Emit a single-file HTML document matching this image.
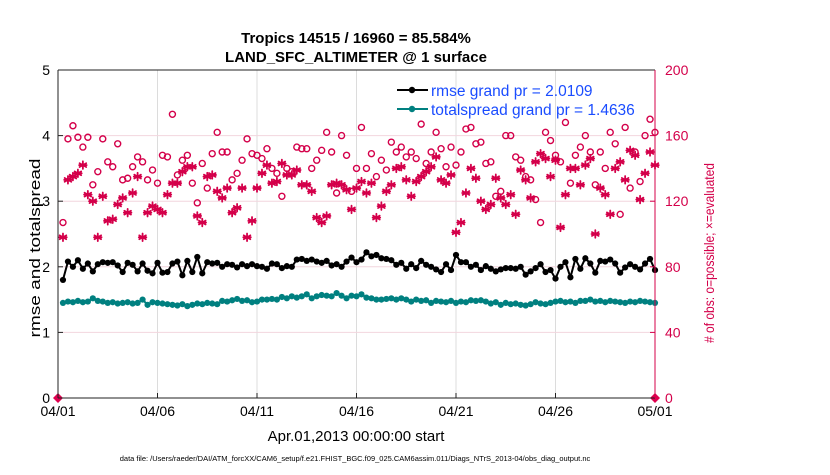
<!DOCTYPE html>
<html><head><meta charset="utf-8"><style>
body{margin:0;background:#fff;}
svg text{font-family:"Liberation Sans",sans-serif;}
</style></head><body>
<svg id="chart" width="830" height="470" xmlns="http://www.w3.org/2000/svg">
<rect width="830" height="470" fill="#fff"/>
<g id="grid"></g>
<g id="legend">
 <line x1="397" y1="90" x2="428" y2="90" stroke="#000" stroke-width="2"/>
 <circle cx="412" cy="90" r="3.2" fill="#000"/>
 <text x="431" y="96" font-size="15.5" fill="#1a4cff">rmse grand pr = 2.0109</text>
 <line x1="397" y1="109" x2="428" y2="109" stroke="#008080" stroke-width="2"/>
 <circle cx="412" cy="109" r="3.2" fill="#008080"/>
 <text x="431" y="115" font-size="15.5" fill="#1a4cff">totalspread grand pr = 1.4636</text>
</g>
<g id="marks"></g>
<g id="axes"></g>
<text x="356" y="43" font-size="15" font-weight="bold" text-anchor="middle">Tropics 14515 / 16960 = 85.584%</text>
<text x="356" y="62" font-size="15" font-weight="bold" text-anchor="middle">LAND_SFC_ALTIMETER @ 1 surface</text>
<text x="356" y="441" font-size="15" text-anchor="middle">Apr.01,2013 00:00:00 start</text>
<text transform="translate(40,248) rotate(-90)" font-size="15" text-anchor="middle" textLength="179" lengthAdjust="spacingAndGlyphs">rmse and totalspread</text>
<text transform="translate(714,253) rotate(-90)" font-size="14" fill="#d4004a" text-anchor="middle" textLength="180" lengthAdjust="spacingAndGlyphs"># of obs: o=possible; ×=evaluated</text>
<text x="355" y="461" font-size="7.5" text-anchor="middle">data file: /Users/raeder/DAI/ATM_forcXX/CAM6_setup/f.e21.FHIST_BGC.f09_025.CAM6assim.011/Diags_NTrS_2013-04/obs_diag_output.nc</text>
</svg>
<script>
const xTickLabels=["04/01","04/06","04/11","04/16","04/21","04/26","05/01"];
const xTickDays=[0,5,10,15,20,25,30];
const leftTicks=[0,1,2,3,4,5];
const rightTicks=[0,40,80,120,160,200];
const rmse=[1.80,2.08,2.00,2.10,1.97,2.05,1.93,2.04,2.07,2.06,2.07,2.02,1.92,2.06,2.03,1.93,2.05,1.94,1.90,2.06,1.91,1.92,2.05,2.08,1.87,2.09,1.92,2.15,1.90,2.07,2.05,2.06,2.00,2.04,2.03,1.99,2.04,2.01,2.04,2.01,2.00,1.97,2.05,2.04,1.98,2.01,2.00,2.11,2.12,2.09,2.11,2.08,2.06,2.09,2.02,2.04,2.00,2.08,2.14,2.07,2.11,2.22,2.16,2.18,2.13,2.12,2.10,2.03,2.06,1.97,2.04,1.98,2.09,2.03,2.00,1.96,1.92,2.04,1.95,2.18,2.07,2.07,2.00,2.03,1.95,2.01,1.97,1.93,1.96,1.98,1.98,1.97,2.00,1.88,1.93,1.98,2.04,1.92,1.95,1.82,2.00,2.07,1.84,2.12,1.97,2.13,2.05,1.91,2.09,2.08,2.11,2.05,1.91,1.99,2.04,2.00,1.96,2.05,2.12,1.95];
const spread=[1.45,1.47,1.46,1.48,1.46,1.47,1.52,1.48,1.47,1.45,1.46,1.44,1.45,1.46,1.44,1.45,1.50,1.42,1.46,1.45,1.44,1.43,1.42,1.41,1.43,1.40,1.42,1.44,1.43,1.45,1.44,1.43,1.48,1.47,1.49,1.51,1.48,1.49,1.46,1.47,1.50,1.50,1.51,1.50,1.54,1.52,1.55,1.53,1.55,1.58,1.52,1.55,1.57,1.56,1.55,1.60,1.56,1.52,1.56,1.55,1.58,1.53,1.52,1.50,1.50,1.51,1.52,1.50,1.52,1.50,1.47,1.50,1.48,1.49,1.45,1.48,1.47,1.46,1.48,1.45,1.47,1.46,1.49,1.48,1.49,1.47,1.44,1.46,1.42,1.45,1.43,1.44,1.42,1.41,1.43,1.46,1.44,1.43,1.45,1.47,1.48,1.46,1.47,1.45,1.48,1.48,1.50,1.47,1.48,1.46,1.48,1.47,1.46,1.45,1.47,1.46,1.48,1.47,1.46,1.45];
const possible=[107,158,166,159,153,159,130,138,158,144,141,155,133,134,141,147,144,133,139,131,148,147,173,136,145,148,131,119,143,128,149,162,150,150,133,137,145,158,149,148,146,152,140,137,123,140,138,153,152,152,140,145,151,162,150,125,160,148,126,140,165,140,149,135,145,139,156,150,153,147,150,146,167,143,150,162,152,141,153,142,150,164,165,155,156,143,144,123,126,160,160,147,145,135,133,121,107,162,157,148,144,168,131,148,153,160,150,130,150,140,162,155,112,165,128,150,132,160,170,162];
const evaluated=[98,133,135,137,142,124,120,98,123,108,109,118,122,113,125,135,98,113,117,115,113,124,131,131,138,141,141,111,107,135,136,126,122,128,113,116,128,98,108,128,137,142,131,132,143,136,136,139,130,130,126,110,107,111,130,131,130,127,115,128,132,125,131,110,117,126,130,140,141,133,123,132,135,138,141,147,133,131,136,101,107,125,140,134,120,115,118,134,122,118,124,112,139,133,122,144,149,146,135,145,104,124,140,140,130,142,146,100,128,124,112,140,144,133,151,148,121,137,150,142];

const X0=58,X1=655,Y0=398,Y1=70;
const xS=d=>X0+(X1-X0)*d/30;
const yL=v=>Y0-(Y0-Y1)*v/5;
const yR=v=>Y0-(Y0-Y1)*v/200;
const NS="http://www.w3.org/2000/svg";
function mk(tag,attrs,parent){const e=document.createElementNS(NS,tag);for(const k in attrs)e.setAttribute(k,attrs[k]);parent.appendChild(e);return e;}
const grid=document.getElementById('grid'),marks=document.getElementById('marks'),axes=document.getElementById('axes');
const tDay=i=>(i+1)*30/rmse.length;

xTickDays.forEach((d,i)=>{
 const g=mk('line',{x1:xS(d),x2:xS(d),y1:Y1,y2:Y0,stroke:'#dcdcdc','stroke-width':1},grid);
 
 
 const t=mk('text',{x:xS(d),y:Y0+18,'font-size':14,'text-anchor':'middle'},axes);
 t.textContent=xTickLabels[i];
 
 
 mk('line',{x1:xS(d),x2:xS(d),y1:Y0,y2:Y0-5,stroke:'#222'},axes);
});
rightTicks.forEach(v=>{
 if(v>0&&v<200){const g=mk('line',{x1:X0,x2:X1,y1:yR(v),y2:yR(v),stroke:'#f2d6de','stroke-width':1},grid);
 
 }
 const t=mk('text',{x:X1+10,y:yR(v)+5,'font-size':14,fill:'#d4004a'},axes);
 t.textContent=v;
 
 
 mk('line',{x1:X1,x2:X1-5,y1:yR(v),y2:yR(v),stroke:'#d4004a'},axes);
});
leftTicks.forEach(v=>{
 const t=mk('text',{x:X0-8,y:yL(v)+5,'font-size':14,'text-anchor':'end'},axes);
 t.textContent=v;
 
 
 mk('line',{x1:X0,x2:X0+5,y1:yL(v),y2:yL(v),stroke:'#222'},axes);
});
mk('line',{x1:X0,x2:X0,y1:Y1,y2:Y0,stroke:'#222'},axes);
mk('line',{x1:X0,x2:X1,y1:Y0,y2:Y0,stroke:'#222'},axes);
mk('line',{x1:X0,x2:X1,y1:Y1,y2:Y1,stroke:'#222'},axes);
mk('line',{x1:X1,x2:X1,y1:Y1,y2:Y0,stroke:'#d4004a'},axes);

evaluated.forEach((v,i)=>{
 const cx=xS(tDay(i)),cy=yR(v),r=3.8;
 let d='';for(let a=0;a<3;a++){const th=Math.PI/2+a*Math.PI/3;d+=`M${cx-r*Math.cos(th)},${cy-r*Math.sin(th)}L${cx+r*Math.cos(th)},${cy+r*Math.sin(th)}`;}
 d+=`M${cx-r},${cy}L${cx+r},${cy}`;
 const p=mk('path',{d:d,stroke:'#d4004a','stroke-width':1.8,'stroke-linecap':'round'},marks);
 
 
});
possible.forEach((v,i)=>{
 const c=mk('circle',{cx:xS(tDay(i)),cy:yR(v),r:3,fill:'none',stroke:'#d4004a','stroke-width':1.4},marks);
 
 
});
function series(arr,color,name){
 const pts=arr.map((v,i)=>xS(tDay(i))+','+yL(v)).join(' ');
 const l=mk('polyline',{points:pts,fill:'none',stroke:color,'stroke-width':2},marks);
 
 
 arr.forEach((v,i)=>{
  const c=mk('circle',{cx:xS(tDay(i)),cy:yL(v),r:3.1,fill:color},marks);
  
  
 });
}
series(spread,'#008080','totalspread');
series(rmse,'#000','rmse');
[0,30].forEach(d=>{
 const m=mk('path',{d:`M${xS(d)-5},${Y0}L${xS(d)},${Y0-5}L${xS(d)+5},${Y0}L${xS(d)},${Y0+5}Z`,fill:'#e0004f'},marks);
 
 
});
document.getElementById('chart').appendChild(document.getElementById('legend'));
</script>
</body></html>
